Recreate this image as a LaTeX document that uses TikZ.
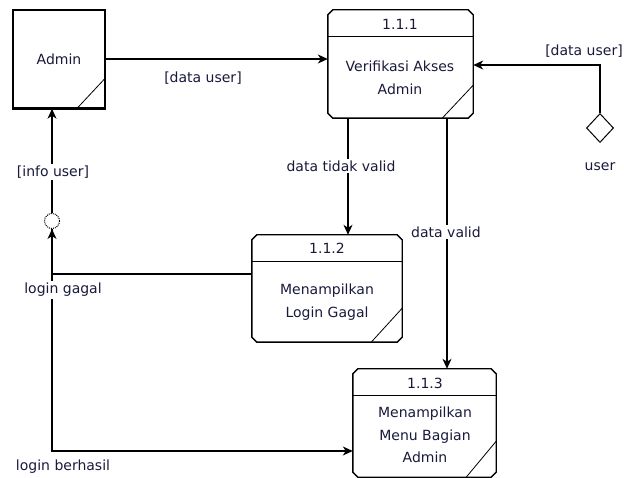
\documentclass[tikz,border=0pt]{standalone}
\usepackage{fontspec}
\setmainfont{DejaVu Sans}
\usetikzlibrary{shapes.geometric,arrows.meta,calc}
\definecolor{txtc}{RGB}{25,25,60}
\newcommand\procbox[1]{%
  \draw[boxline] ($(#1.north west)+(5,0)$) -- ($(#1.north east)+(-5,0)$) -- ($(#1.north east)+(0,5)$)
   -- ($(#1.south east)+(0,-5)$) -- ($(#1.south east)+(-5,0)$) -- ($(#1.south west)+(5,0)$)
   -- ($(#1.south west)+(0,-5)$) -- ($(#1.north west)+(0,5)$) -- cycle;}
\begin{document}
\begin{tikzpicture}[x=1pt,y=-1pt,
  font=\fontsize{14}{22.5}\selectfont,
  txt/.style={text=txtc, inner sep=1pt, align=center},
  lbl/.style={txt, fill=white, inner sep=2pt},
  boxline/.style={line width=1.4pt, line join=miter},
  box/.style={rectangle, draw=none, inner sep=0pt},
  flow/.style={line width=1.2pt, -{Stealth[length=10pt,width=9pt,inset=3pt]}},
  thinl/.style={line width=0.8pt}]
\useasboundingbox (0,0) rectangle (624,478);

% Admin external entity
\node[rectangle, draw, boxline, minimum width=92pt, minimum height=98pt, inner sep=0pt] (admin) at (59,59) {};
\draw[line width=3pt] (admin.south west) -- (admin.south east);
\draw[thinl] ($(admin.south east)+(-29,0)$) -- ($(admin.south east)+(0,-31)$);
\node[txt] (admint) at (59,59) {Admin};

% Process 1.1.1
\node[box, minimum width=145pt, minimum height=108pt] (p1) at (400.5,64) {};
\procbox{p1}
\draw[thinl] ($(p1.north west)+(0,27)$) -- ($(p1.north east)+(0,27)$);
\draw[thinl] ($(p1.south east)+(-31,0)$) -- ($(p1.south east)+(0,-33)$);
\node[txt] (p1n) at (400,24) {1.1.1};
\node[txt] (p1t) at (400,78) {Verifikasi Akses\\Admin};

% Process 1.1.2
\node[box, minimum width=150pt, minimum height=107pt] (p2) at (327,288.5) {};
\procbox{p2}
\draw[thinl] ($(p2.north west)+(0,27)$) -- ($(p2.north east)+(0,27)$);
\draw[thinl] ($(p2.south east)+(-31,0)$) -- ($(p2.south east)+(0,-34)$);
\node[txt] (p2n) at (327,248) {1.1.2};
\node[txt] (p2t) at (327,302) {Menampilkan\\Login Gagal};

% Process 1.1.3
\node[box, minimum width=143pt, minimum height=108pt] (p3) at (424.5,423) {};
\procbox{p3}
\draw[thinl] ($(p3.north west)+(0,27)$) -- ($(p3.north east)+(0,27)$);
\draw[thinl] ($(p3.south east)+(-30,0)$) -- ($(p3.south east)+(0,-36)$);
\node[txt] (p3n) at (425,383) {1.1.3};
\node[txt] (p3t) at (425,435) {Menampilkan\\Menu Bagian\\Admin};

% junction circle and user diamond
\node[circle, draw, densely dotted, line width=1pt, minimum size=15pt, inner sep=0pt] (circ) at (52,221) {};
\node[diamond, draw, line width=1pt, minimum width=27pt, minimum height=29pt, inner sep=0pt] (user) at (600,128) {};
\node[txt] (usert) at (600,167) {user};

% bend coordinates
\coordinate (u1) at (600,65);
\coordinate (b1) at (52,274);
\coordinate (b2) at (52,451);
\coordinate (t2) at (348,0);
\coordinate (t3) at (447,0);

% connectors
\draw[flow] (admin.east) -- (p1.west |- admin.east);
\node[txt] (l1) at (203,78) {[data user]};

\draw[flow] (user.north) -- (u1) -- (p1.east |- u1);
\node[txt] (l2) at (584,51) {[data user]};

\draw[flow] (p1.south -| t2) -- (p2.north -| t2);
\node[lbl] (l3) at (341,166) {data tidak valid};

\draw[flow] (p1.south -| t3) -- (p3.north -| t3);
\node[lbl] (l4) at (446,232) {data valid};

\draw[flow] (circ.north) -- (circ.north |- admin.south);
\node[lbl] (l5) at (53,172) {[info user]};

\draw[flow] (p2.west |- b1) -- (b1) -- (circ.south);
\draw[flow] (circ.south) -- (b2) -- (p3.west |- b2);
\node[lbl] (l6) at (63,290) {login gagal};
\node[txt] (l7) at (63,467) {login berhasil};
\end{tikzpicture}
\end{document}
